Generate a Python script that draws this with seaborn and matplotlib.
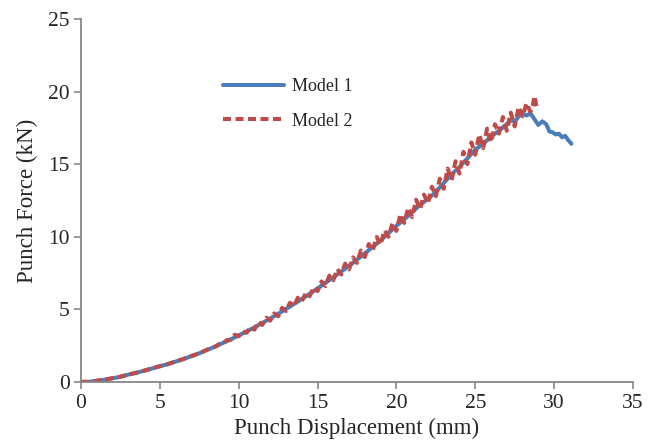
import numpy as np
import pandas as pd
import matplotlib.pyplot as plt
import seaborn as sns

# Model 1 (solid blue)
x_model1 = [0, 0.5, 1, 1.5, 2, 2.5, 3, 3.5, 4, 4.5, 5, 5.5, 6, 6.5, 7, 7.5, 8, 8.5, 9, 9.5,
            10, 10.5, 11, 11.5, 12, 12.5, 13, 13.5, 14, 14.5, 15, 15.5, 16, 16.5, 17, 17.5,
            18, 18.5, 19, 19.5, 20, 20.5, 21, 21.5, 22, 22.5, 23, 23.5, 24, 24.5, 25, 25.5,
            26, 26.5, 27, 27.25, 27.5, 27.75, 28, 28.25, 28.5, 28.75, 29, 29.25, 29.5, 29.7,
            29.9, 30.1, 30.3, 30.5, 30.7, 30.9, 31.1]
y_model1 = [0, 0.0, 0.08, 0.15, 0.25, 0.35, 0.5, 0.62, 0.77, 0.92, 1.07, 1.22, 1.4, 1.58, 1.77,
            1.97, 2.2, 2.43, 2.68, 2.93, 3.2, 3.47, 3.76, 4.06, 4.37, 4.69, 5.02, 5.36, 5.71,
            6.07, 6.44, 6.82, 7.2, 7.6, 8.0, 8.42, 8.85, 9.3, 9.75, 10.25, 10.75, 11.2, 11.7,
            12.2, 12.6, 13.1, 13.7, 14.3, 14.8, 15.4, 16.0, 16.4, 16.9, 17.3, 17.75, 18.05,
            17.9, 18.3, 18.5, 18.35, 18.5, 18.1, 17.7, 17.95, 17.75, 17.25, 17.2, 17.05, 17.1,
            16.85, 16.95, 16.65, 16.4]

# Model 2 (dashed red)
x_model2 = [0, 0.5, 1, 1.5, 2, 2.5, 3, 3.5, 4, 4.5, 5, 5.5, 6, 6.5, 7, 7.5, 8,
            8.25, 8.5, 8.75, 9, 9.25, 9.5, 9.75, 10, 10.25, 10.5, 10.75, 11, 11.25, 11.5,
            11.75, 12, 12.25, 12.5, 12.75, 13, 13.25, 13.5, 13.75, 14, 14.25, 14.5, 14.75,
            15, 15.25, 15.5, 15.75, 16, 16.25, 16.5, 16.75, 17, 17.25, 17.5, 17.75, 18,
            18.25, 18.5, 18.75, 19, 19.25, 19.5, 19.75, 20, 20.25, 20.5, 20.75, 21, 21.25,
            21.5, 21.75, 22, 22.25, 22.5, 22.75, 23, 23.25, 23.5, 23.75, 24, 24.25, 24.5,
            24.75, 25, 25.25, 25.5, 25.75, 26, 26.25, 26.5, 26.75, 27, 27.25, 27.5, 27.75,
            28, 28.25, 28.5, 28.65, 28.75, 28.9]
y_model2 = [0, 0.0, 0.08, 0.15, 0.26, 0.36, 0.5, 0.63, 0.77, 0.93, 1.08, 1.22, 1.41, 1.57,
            1.78, 1.96, 2.22, 2.36, 2.41, 2.6, 2.63, 2.88, 2.9, 3.25, 3.14, 3.48, 3.38, 3.78,
            3.6, 4.14, 3.92, 4.42, 4.22, 4.72, 4.52, 5.1, 4.88, 5.45, 5.2, 5.8, 5.55,
            6.1, 5.9, 6.52, 6.25, 6.92, 6.6, 7.32, 7.0, 7.78, 7.4, 8.15, 7.75, 8.58,
            8.2, 9.05, 8.6, 9.5, 9.05, 9.98, 9.45, 10.45, 10.0, 10.95, 10.4, 11.55,
            10.95, 12.0, 11.35, 12.55, 11.9, 12.9, 12.3, 13.45, 12.8, 14.0, 13.3,
            14.7, 13.9, 15.2, 14.35, 15.85, 15.0, 16.5, 15.65, 17.05, 16.1, 17.45, 16.5,
            17.75, 17.1, 18.25, 17.3, 18.55, 17.6, 18.95, 18.3, 19.2, 18.6, 19.05,
            19.7, 18.9]

m1 = pd.DataFrame({"x": x_model1, "y": y_model1, "model": "Model 1"})
m2 = pd.DataFrame({"x": x_model2, "y": y_model2, "model": "Model 2"})
df = pd.concat([m1, m2], ignore_index=True)

sns.set_style("ticks")
plt.rcParams["font.family"] = ["Liberation Serif", "DejaVu Serif"]

fig = plt.figure(figsize=(6.58, 4.42), dpi=100)
ax = fig.add_axes([0.123, 0.136, 0.839, 0.821])

sns.lineplot(data=df, x="x", y="y", hue="model", style="model",
             palette={"Model 1": "#4A7EBB", "Model 2": "#BE4B48"},
             dashes={"Model 1": "", "Model 2": (2.0, 1.1)},
             linewidth=2.9, sort=False, estimator=None, ax=ax)

ax.set_xlim(0, 35)
ax.set_ylim(0, 25)
ax.set_xticks(range(0, 36, 5))
ax.set_yticks(range(0, 26, 5))
ax.set_xlabel("Punch Displacement (mm)", fontsize=16.5, labelpad=3)
ax.set_ylabel("Punch Force (kN)", fontsize=16.5, labelpad=7)
ax.tick_params(axis="both", labelsize=15.5, color="#868686", length=5, width=1.2,
               direction="out")
ax.tick_params(axis="x", pad=4)
ax.tick_params(axis="y", pad=3)
for s in ["left", "bottom"]:
    ax.spines[s].set_color("#868686")
    ax.spines[s].set_linewidth(1.3)
sns.despine(ax=ax)

leg = ax.legend(title=None, loc="upper left", bbox_to_anchor=(0.228, 0.881), frameon=False,
                fontsize=13, handlelength=3.4, handletextpad=0.4, labelspacing=0.95)

fig.savefig("out.png", dpi=100)
